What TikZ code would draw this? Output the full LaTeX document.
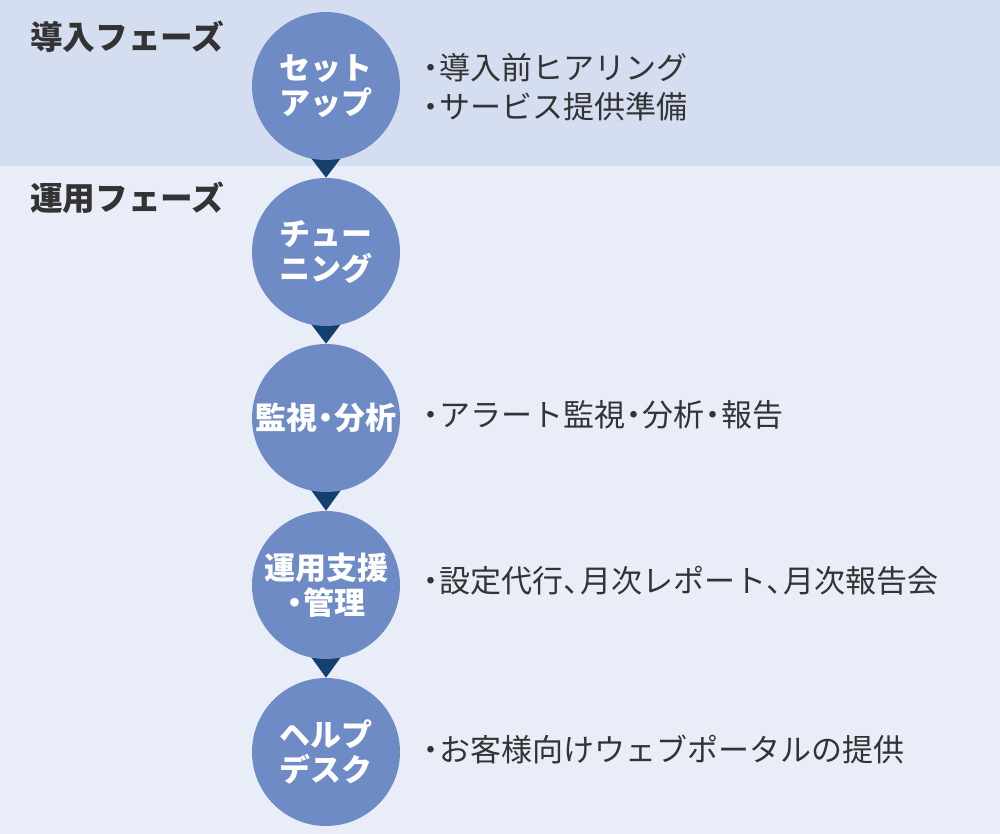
\documentclass[tikz,border=0pt]{standalone}
\usepackage{fontspec}
\setmainfont{Noto Sans CJK JP}
\usetikzlibrary{backgrounds,calc}
\definecolor{bandtop}{HTML}{D4DEF0}
\definecolor{bandbot}{HTML}{E8EDF8}
\definecolor{circfill}{HTML}{6F8BC6}
\definecolor{navy}{HTML}{13406F}
\definecolor{inkc}{HTML}{333333}
\newcommand\nkt{\makebox[0.55em]{・}}
\newcommand\nten{\makebox[0.55em][l]{、}}
\begin{document}
\begin{tikzpicture}[x=0.75pt,y=-0.75pt,
  stage/.style={circle,fill=circfill,minimum size=111pt,inner sep=0pt,text=white,
    font=\bfseries\fontsize{23.25}{26.25}\selectfont,align=center},
  phase/.style={anchor=west,inner sep=0pt,text=inkc,font=\bfseries\fontsize{24.5}{28}\selectfont},
  desc/.style={anchor=west,inner sep=0pt,text=inkc,font=\fontsize{23.25}{27}\selectfont},
  tri/.style={fill=navy}]
\useasboundingbox (0,0) rectangle (1000,834);
\begin{pgfonlayer}{background}
\fill[bandtop] (0,0) rectangle (1000,166);
\fill[bandbot] (0,166) rectangle (1000,834);
\end{pgfonlayer}

\node[phase] (ph1) at (30,37) {導入フェーズ};
\node[phase] (ph2) at (30,198) {運用フェーズ};

\node[stage] (s1) at (326,86) {セット\\アップ};
\node[stage] (s2) at (326,252) {チュー\\ニング};
\node[stage] (s3) at (326,418) {監視\nkt{}分析};
\node[stage] (s4) at (326,585) {運用支援\\\nkt{}管理};
\node[stage] (s5) at (326,752) {ヘルプ\\デスク};

\begin{pgfonlayer}{background}
\foreach \a/\b in {s1/s2,s2/s3,s3/s4,s4/s5}{
  \fill[tri] ($(\a.south)+(-15.5,-3)$) -- ($(\a.south)+(15.5,-3)$) -- (\b.north) -- cycle;
}
\end{pgfonlayer}

\node[desc] (d1) at (422,67.5) {\nkt{}導入前ヒアリング};
\node[desc] (d2) at (422,107) {\nkt{}サービス提供準備};
\node[desc] (d3) at (422,415) {\nkt{}アラート監視\nkt{}分析\nkt{}報告};
\node[desc] (d4) at (422,581) {\nkt{}設定代行\nten{}月次レポート\nten{}月次報告会};
\node[desc] (d5) at (422,749) {\nkt{}お客様向けウェブポータルの提供};
\end{tikzpicture}
\end{document}
